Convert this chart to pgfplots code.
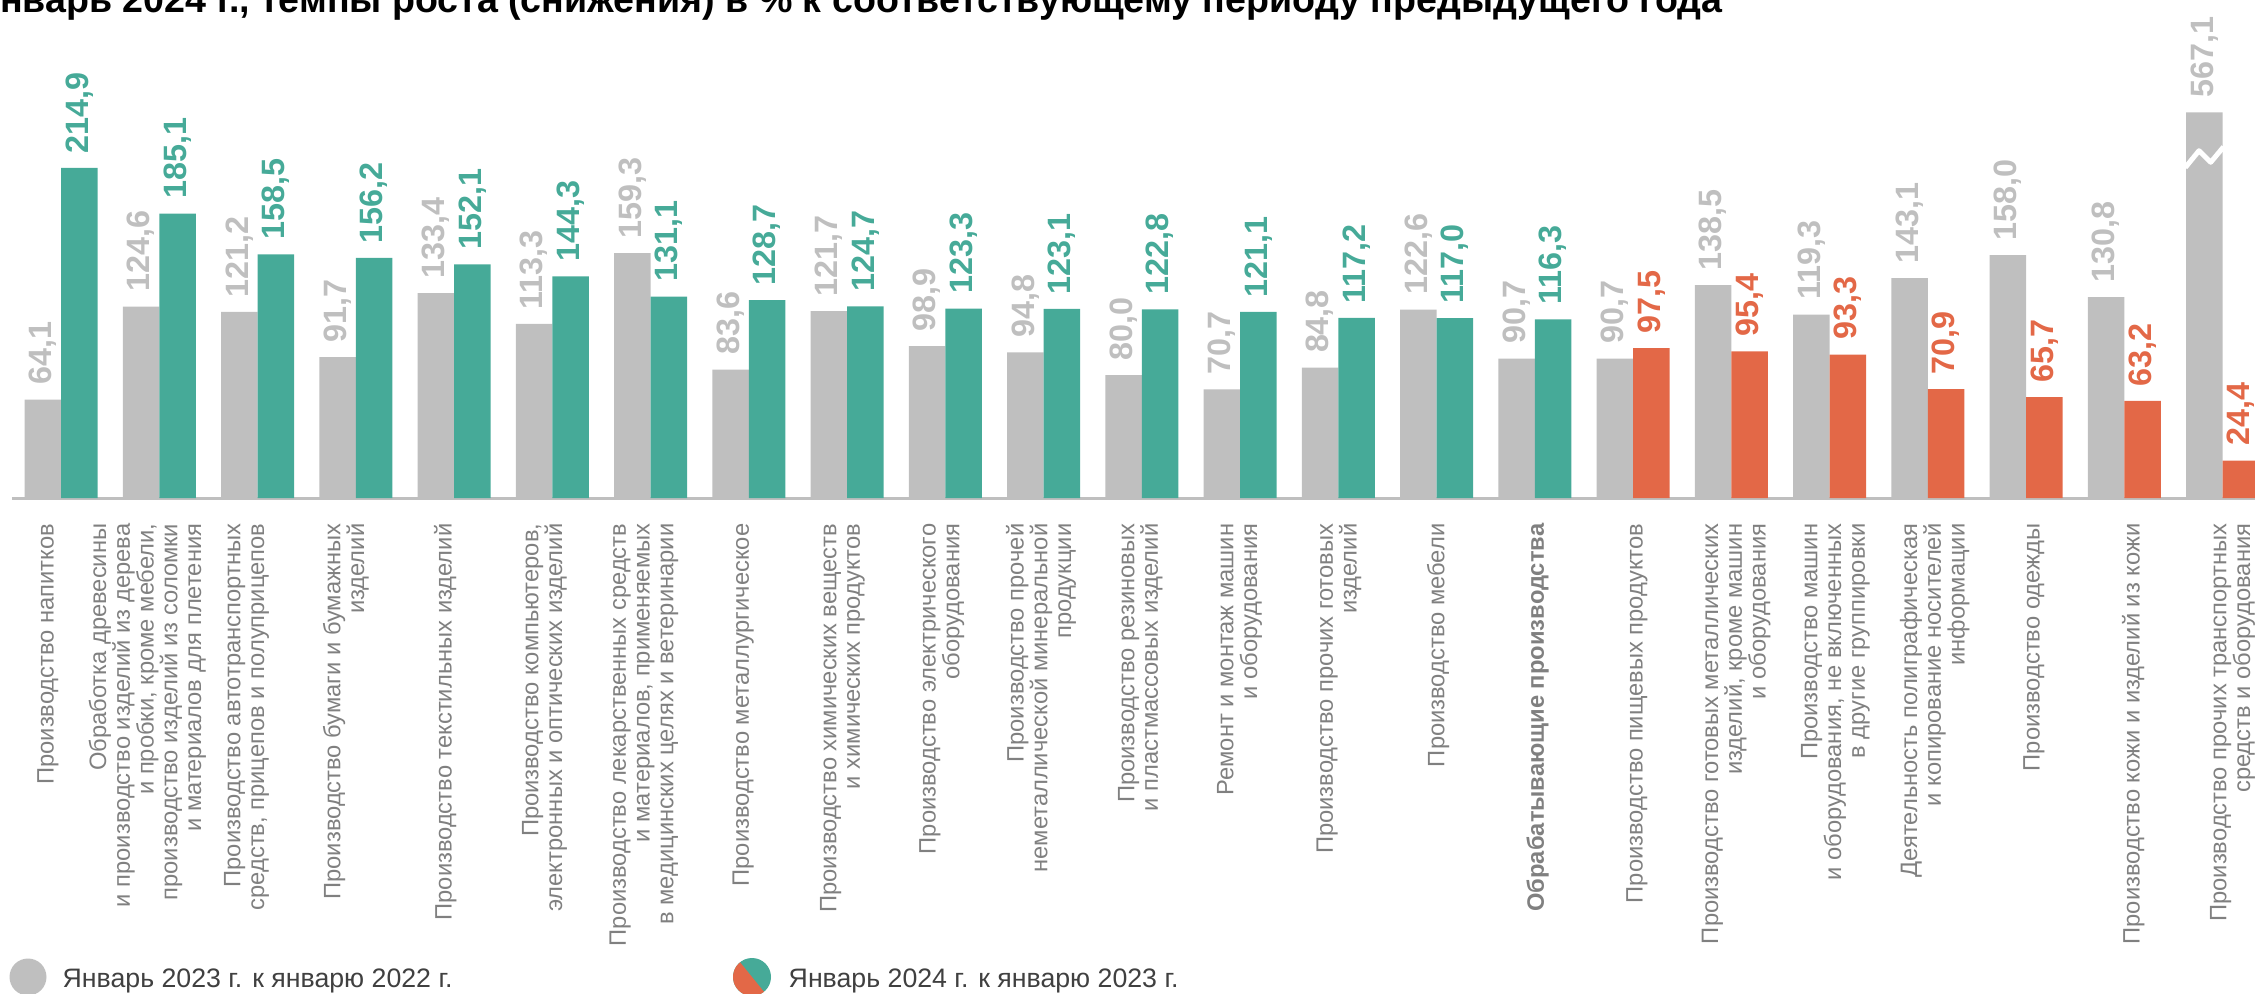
\documentclass[border=0pt]{standalone}
\usepackage{fontspec}
\setmainfont{Liberation Sans}
\usepackage{pgfplots}
\pgfplotsset{compat=1.18}
\definecolor{bargray}{RGB}{191,191,191}
\definecolor{bargreen}{RGB}{70,170,152}
\definecolor{barorange}{RGB}{227,104,71}
\definecolor{labgray}{RGB}{128,128,128}
\definecolor{leggray}{RGB}{64,64,64}
\begin{document}
\begin{tikzpicture}[x=1cm,y=1cm]
\useasboundingbox (0,0) rectangle (22.55,9.93);
\clip (0,0) rectangle (22.55,9.93);
\begin{axis}[
  at={(0.119cm,4.95cm)}, anchor=south west,
  x=0.9825cm, y=0.01537cm,
  xmin=-0.5, xmax=22.5, ymin=0, ymax=320,
  enlargelimits=false, clip=false,
  hide y axis,
  axis x line=bottom,
  x axis line style={draw=bargray, line width=0.03cm, -},
  major tick length=0pt,
  xtick={0,...,22},
  xticklabel style={xshift={(-0.13+0.0105*\ticknum)*1cm}, yshift=-0.25cm, rotate=90, anchor=east, align=right, inner sep=0pt, text=labgray, font=\fontsize{6.75pt}{6.75pt}\selectfont},
  xticklabels={
    {Производство напитков},
    {Обработка древесины\\и производство изделий из дерева\\и пробки, кроме мебели,\\производство изделий из соломки\\и материалов для плетения},
    {Производство автотранспортных\\средств, прицепов и полуприцепов},
    {Производство бумаги и бумажных\\изделий},
    {Производство текстильных изделий},
    {Производство компьютеров,\\электронных и оптических изделий},
    {Производство лекарственных средств\\и материалов, применяемых\\в медицинских целях и ветеринарии},
    {Производство металлургическое},
    {Производство химических веществ\\и химических продуктов},
    {Производство электрического\\оборудования},
    {Производство прочей\\неметаллической минеральной\\продукции},
    {Производство резиновых\\и пластмассовых изделий},
    {Ремонт и монтаж машин\\и оборудования},
    {Производство прочих готовых\\изделий},
    {Производство мебели},
    {\textbf{Обрабатывающие производства}},
    {Производство пищевых продуктов},
    {Производство готовых металлических\\изделий, кроме машин\\и оборудования},
    {Производство машин\\и оборудования, не включенных\\в другие группировки},
    {Деятельность полиграфическая\\и копирование носителей\\информации},
    {Производство одежды},
    {Производство кожи и изделий из кожи},
    {Производство прочих транспортных\\средств и оборудования}
  },
  point meta=explicit symbolic,
  nodes near coords={\pgfplotspointmeta},
  every node near coord/.append style={inner xsep=0.14cm, inner ysep=0pt, font=\fontsize{9.2pt}{9.2pt}\selectfont\bfseries},
]
\addplot[ybar, bar width=0.365cm, bar shift=-0.1825cm, fill=bargray, draw=none,
  every node near coord/.append style={xshift=-0.1825cm, rotate=90, anchor=west, text=bargray},
  y filter/.expression={y>300 ? 251 : y}]
  coordinates {
  (0,64.1)[64,1] (1,124.6)[124,6] (2,121.2)[121,2] (3,91.7)[91,7] (4,133.4)[133,4]
  (5,113.3)[113,3] (6,159.3)[159,3] (7,83.6)[83,6] (8,121.7)[121,7] (9,98.9)[98,9]
  (10,94.8)[94,8] (11,80.0)[80,0] (12,70.7)[70,7] (13,84.8)[84,8] (14,122.6)[122,6]
  (15,90.7)[90,7] (16,90.7)[90,7] (17,138.5)[138,5] (18,119.3)[119,3] (19,143.1)[143,1]
  (20,158.0)[158,0] (21,130.8)[130,8] (22,567.1)[567,1]
  };
\addplot[ybar, bar width=0.365cm, bar shift=0.1825cm, fill=bargreen, draw=none,
  every node near coord/.append style={xshift=0.1825cm, rotate=90, anchor=west, text=bargreen}]
  coordinates {
  (0,214.9)[214,9] (1,185.1)[185,1] (2,158.5)[158,5] (3,156.2)[156,2] (4,152.1)[152,1]
  (5,144.3)[144,3] (6,131.1)[131,1] (7,128.7)[128,7] (8,124.7)[124,7] (9,123.3)[123,3]
  (10,123.1)[123,1] (11,122.8)[122,8] (12,121.1)[121,1] (13,117.2)[117,2] (14,117.0)[117,0]
  (15,116.3)[116,3]
  };
\addplot[ybar, bar width=0.365cm, bar shift=0.1825cm, fill=barorange, draw=none,
  every node near coord/.append style={xshift=0.1825cm, rotate=90, anchor=west, text=barorange}]
  coordinates {
  (16,97.5)[97,5] (17,95.4)[95,4] (18,93.3)[93,3] (19,70.9)[70,9] (20,65.7)[65,7]
  (21,63.2)[63,2] (22,24.4)[24,4]
  };
\draw[white, line width=0.05cm, line join=round] (axis cs:21.62,215) -- (axis cs:21.76,226) -- (axis cs:21.88,218.5) -- (axis cs:22.01,228.5);
\end{axis}
\node[anchor=base east, inner sep=0pt, text=black, font=\fontsize{10.7pt}{10.7pt}\selectfont\bfseries] at (17.23,9.8)
  {Январь 2024 г., темпы роста (снижения) в \% к соответствующему периоду предыдущего года};
\fill[bargray] (0.28,0.16) circle[radius=0.185];
\node[anchor=base west, inner sep=0pt, text=leggray, font=\fontsize{7.6pt}{7.6pt}\selectfont] at (0.62,0.06)
  {Январь 2023 г. к январю 2022 г.};
\fill[bargreen] (7.52,0.16) circle[radius=0.19];
\fill[barorange] (7.52,0.16) -- ++(129:0.19) arc[start angle=129, end angle=309, radius=0.19] -- cycle;
\node[anchor=base west, inner sep=0pt, text=leggray, font=\fontsize{7.6pt}{7.6pt}\selectfont] at (7.88,0.06)
  {Январь 2024 г. к январю 2023 г.};
\end{tikzpicture}
\end{document}
